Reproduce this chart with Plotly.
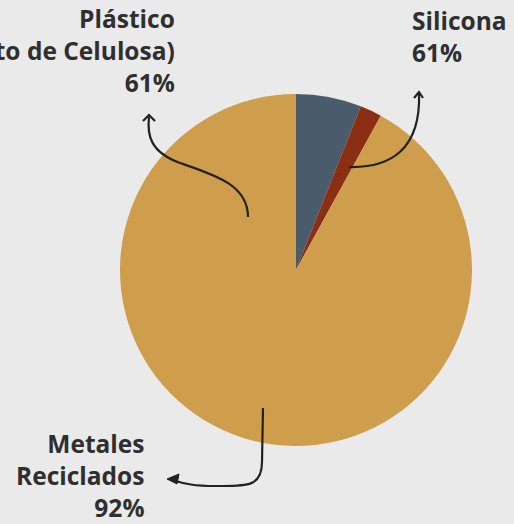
import plotly.graph_objects as go

# Data
materials = ["Plástico (Acetato de Celulosa)", "Silicona", "Metales Reciclados"]
shares = [6, 2, 92]
colors = ["#4A5B6C", "#8A2E14", "#CF9E4D"]
label_texts = ["Plástico<br>(Acetato de Celulosa)<br>61%", "Silicona<br>61%", "Metales<br>Reciclados<br>92%"]

W, H = 514, 524
cx, cy, r = 296, 270, 176


def px(x):
    return x / W


def py(y):
    return 1 - y / H


fig = go.Figure(go.Pie(
    labels=materials,
    values=shares,
    marker=dict(colors=colors, line=dict(width=0)),
    sort=False,
    direction="clockwise",
    rotation=0,
    textinfo="none",
    hoverinfo="label+percent",
    domain=dict(x=[px(cx - r), px(cx + r)], y=[py(cy + r), py(cy - r)]),
    showlegend=False,
))


def path(pts_str):
    out = []
    for tok in pts_str.split():
        if tok[0].isalpha():
            out.append(tok)
        else:
            x, y = tok.split(",")
            out.append(f"{px(float(x)):.5f},{py(float(y)):.5f}")
    return " ".join(out)


line_col = "#222222"
shapes = [
    dict(type="path", path=path("M 248,217 C 248,185 215,175 180,163 C 150,152 147,135 149,117"),
         line=dict(color=line_col, width=2.2)),
    dict(type="path", path=path("M 143,121 L 149,115 L 155,121"), line=dict(color=line_col, width=2.2)),
    dict(type="path", path=path("M 349,167 C 390,168 421,150 419,93"),
         line=dict(color=line_col, width=2.2)),
    dict(type="path", path=path("M 414,98 L 419,92 L 423,98"), line=dict(color=line_col, width=2.2)),
    dict(type="path", path=path("M 263,408 L 262,462 C 262,488 245,486 215,486 C 195,486 185,484 172,480"),
         line=dict(color=line_col, width=2.2)),
    dict(type="path", path=path("M 167,479 L 179,474 L 177,484 Z"), fillcolor=line_col,
         line=dict(color=line_col, width=1)),
]

font = dict(family="'Open Sans', 'Noto Sans', sans-serif", size=24.5, color="#2F2F2F")
annotations = [
    dict(text=f"<b>{label_texts[0]}</b>", x=px(177), y=py(51), xref="paper", yref="paper",
         xanchor="right", yanchor="middle", align="right", showarrow=False, font=font),
    dict(text=f"<b>{label_texts[1]}</b>", x=px(410), y=py(37), xref="paper", yref="paper",
         xanchor="left", yanchor="middle", align="left", showarrow=False, font=font),
    dict(text=f"<b>{label_texts[2]}</b>", x=px(146), y=py(475), xref="paper", yref="paper",
         xanchor="right", yanchor="middle", align="right", showarrow=False, font=font),
]

fig.update_layout(
    width=W, height=H,
    margin=dict(l=0, r=0, t=0, b=0),
    paper_bgcolor="#EAEAEA",
    plot_bgcolor="#EAEAEA",
    shapes=shapes,
    annotations=annotations,
)

fig.write_html("out.html", config={"displayModeBar": False},
               post_script="document.body.style.margin='0';document.body.style.background='#EAEAEA';")
